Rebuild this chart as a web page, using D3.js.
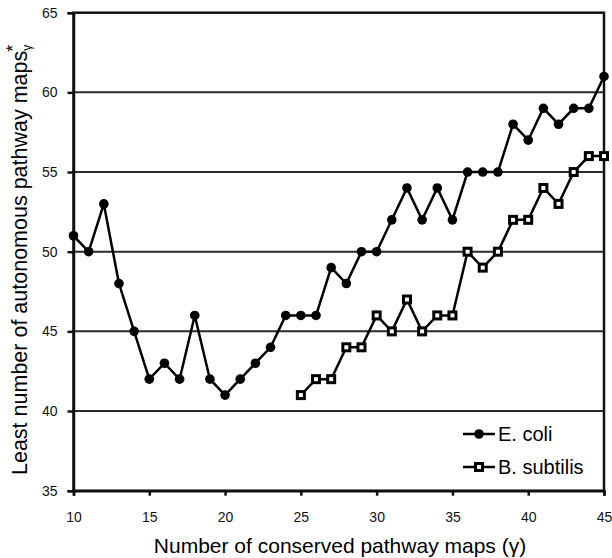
<!DOCTYPE html>
<html lang="en">
<head>
    <meta charset="UTF-8">
    <title>Autonomous pathway maps</title>
    <script src="https://d3js.org/d3.v7.min.js"></script>
    <style>
        body { margin: 0; background: #fff; }
        svg { display: block; font-family: "Liberation Sans", Arial, sans-serif; }
    </style>
</head>
<body>
<div id="container"></div>
<script>
    // data
    const gamma = [10,11,12,13,14,15,16,17,18,19,20,21,22,23,24,25,26,27,28,29,30,31,32,33,34,35,36,37,38,39,40,41,42,43,44,45];
    const ecoli = [51,50,53,48,45,42,43,42,46,42,41,42,43,44,46,46,46,49,48,50,50,52,54,52,54,52,55,55,55,58,57,59,58,59,59,61];
    const gammaBs = [25,26,27,28,29,30,31,32,33,34,35,36,37,38,39,40,41,42,43,44,45];
    const bsubtilis = [41,42,42,44,44,46,45,47,45,46,46,50,49,50,52,52,54,53,55,56,56];
    const xTicks = [10,15,20,25,30,35,40,45];
    const yTicks = [35,40,45,50,55,60,65];

    const width = 612, height = 558;
    const plotLeft = 73.5, plotRight = 604, plotTop = 12.7, plotBottom = 490.7;

    const svg = d3.select('#container').append('svg')
        .attr('width', width).attr('height', height);

    const x = d3.scaleLinear().domain([10,45]).range([plotLeft, plotRight]);
    const y = d3.scaleLinear().domain([35,65]).range([plotBottom, plotTop]);

    // gridlines
    svg.append('g').selectAll('line')
        .data(yTicks.filter(d => d > 35 && d < 65))
        .enter().append('line')
        .attr('x1', plotLeft).attr('x2', plotRight)
        .attr('y1', d => y(d)).attr('y2', d => y(d))
        .attr('stroke', '#2a2a2a').attr('stroke-width', 2);

    // frame
    svg.append('rect')
        .attr('x', plotLeft).attr('y', plotTop)
        .attr('width', plotRight - plotLeft).attr('height', plotBottom - plotTop)
        .attr('fill', 'none').attr('stroke', '#111').attr('stroke-width', 2.5);

    // axes
    const xAxis = svg.append('g')
        .attr('transform', `translate(0,${plotBottom})`)
        .call(d3.axisBottom(x).tickValues(xTicks).tickSize(5).tickPadding(16));
    const yAxis = svg.append('g')
        .attr('transform', `translate(${plotLeft},0)`)
        .call(d3.axisLeft(y).tickValues(yTicks).tickSize(6).tickPadding(10));

    [xAxis, yAxis].forEach(a => {
        a.select('.domain').attr('stroke', '#111').attr('stroke-width', 2.5);
        a.selectAll('.tick line').attr('stroke', '#111').attr('stroke-width', 2.5);
        a.selectAll('.tick text')
            .attr('font-size', 14)
            .attr('font-family', '"Liberation Sans", Arial, sans-serif')
            .attr('fill', '#111');
    });

    const line = d3.line().x(d => x(d[0])).y(d => y(d[1]));
    const ecoliPts = gamma.map((g, i) => [g, ecoli[i]]);
    const bsPts = gammaBs.map((g, i) => [g, bsubtilis[i]]);

    svg.append('path').datum(ecoliPts)
        .attr('d', line).attr('fill', 'none')
        .attr('stroke', '#000').attr('stroke-width', 2.5);
    svg.append('path').datum(bsPts)
        .attr('d', line).attr('fill', 'none')
        .attr('stroke', '#000').attr('stroke-width', 2.5);

    svg.append('g').selectAll('circle')
        .data(ecoliPts)
        .enter().append('circle')
        .attr('cx', d => x(d[0])).attr('cy', d => y(d[1]))
        .attr('r', 4.8).attr('fill', '#000');

    // open squares with a heavy border
    const sq = 7;
    svg.append('g').selectAll('rect')
        .data(bsPts)
        .enter().append('rect')
        .attr('x', d => x(d[0]) - sq / 2).attr('y', d => y(d[1]) - sq / 2)
        .attr('width', sq).attr('height', sq)
        .attr('fill', '#fff').attr('stroke', '#000').attr('stroke-width', 3);

    // legend
    const legend = svg.append('g');
    const lx1 = 463, lx2 = 495, lm = 479;
    legend.append('line').attr('x1', lx1).attr('x2', lx2).attr('y1', 434).attr('y2', 434)
        .attr('stroke', '#000').attr('stroke-width', 2.5);
    legend.append('circle').attr('cx', lm).attr('cy', 434).attr('r', 4.8).attr('fill', '#000');
    legend.append('text').attr('x', 498).attr('y', 441).attr('font-size', 20).text('E. coli');

    legend.append('line').attr('x1', lx1).attr('x2', lx2).attr('y1', 467).attr('y2', 467)
        .attr('stroke', '#000').attr('stroke-width', 2.5);
    legend.append('rect').attr('x', lm - sq / 2).attr('y', 467 - sq / 2)
        .attr('width', sq).attr('height', sq)
        .attr('fill', '#fff').attr('stroke', '#000').attr('stroke-width', 3);
    legend.append('text').attr('x', 498).attr('y', 474).attr('font-size', 20).text('B. subtilis');

    // axis titles
    svg.append('text')
        .attr('x', 340).attr('y', 553)
        .attr('text-anchor', 'middle').attr('font-size', 21)
        .text('Number of conserved pathway maps (γ)');

    const yt = svg.append('text')
        .attr('transform', 'translate(27,475) rotate(-90)')
        .attr('font-size', 21.5);
    yt.append('tspan').text('Least number of autonomous pathway maps');
    yt.append('tspan').attr('font-size', 12).attr('dy', 4).text('γ');
    yt.append('tspan').attr('font-size', 18).attr('dx', -7).attr('dy', -12).text('*');
</script>
</body>
</html>
